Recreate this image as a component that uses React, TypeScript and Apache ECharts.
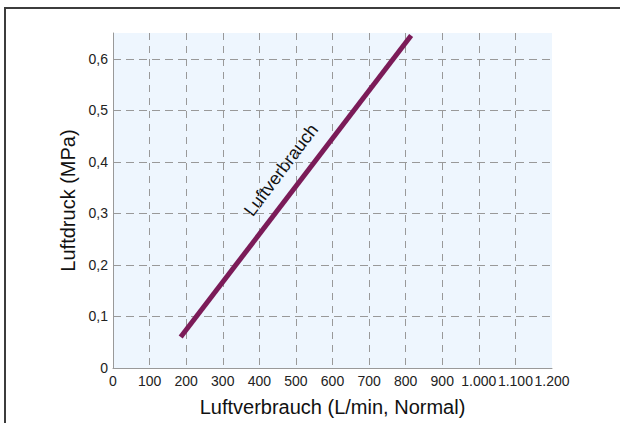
import React, { useEffect, useRef } from "react";
import * as echarts from "echarts";

const lineX = [185, 815];
const lineY = [0.06, 0.645];
const seriesName = "Luftverbrauch";
const xAxisName = "Luftverbrauch (L/min, Normal)";
const yAxisName = "Luftdruck (MPa)";

function fmtX(v: number): string {
  if (v >= 1000) {
    const t = Math.floor(v / 1000);
    const r = String(Math.round(v % 1000)).padStart(3, "0");
    return t + "." + r;
  }
  return String(v);
}
function fmtY(v: number): string {
  if (v === 0) return "0";
  return (Math.round(v * 10) / 10).toFixed(1).replace(".", ",");
}

export default function App() {
  const ref = useRef<HTMLDivElement>(null);
  useEffect(() => {
    if (!ref.current) return;
    const chart = echarts.init(ref.current, undefined, { renderer: "svg" });
    const font = "'Liberation Sans', Arial, sans-serif";
    chart.setOption({
      animation: false,
      grid: {
        left: 113,
        right: 68,
        top: 33,
        bottom: 55,
        show: true,
        backgroundColor: "#eef6fe",
        borderWidth: 0,
      },
      xAxis: {
        type: "value",
        min: 0,
        max: 1200,
        interval: 100,
        name: xAxisName,
        nameLocation: "middle",
        nameGap: 29,
        nameTextStyle: { fontFamily: font, fontSize: 20, color: "#111" },
        axisLine: { show: true, lineStyle: { color: "#999", width: 1 } },
        axisTick: { show: false },
        axisLabel: {
          margin: 6,
          fontFamily: font,
          fontSize: 14,
          color: "#222",
          formatter: (v: number) => fmtX(v),
        },
        splitLine: {
          show: true,
          showMinLine: false,
          showMaxLine: false,
          lineStyle: { color: "#999", type: [7, 6], width: 1 },
        },
      },
      yAxis: {
        type: "value",
        min: 0,
        max: 0.65,
        interval: 0.1,
        name: yAxisName,
        nameLocation: "middle",
        nameGap: 28,
        nameTextStyle: { fontFamily: font, fontSize: 20, color: "#111" },
        axisLine: { show: true, lineStyle: { color: "#999", width: 1 } },
        axisTick: { show: false },
        axisLabel: {
          margin: 5,
          fontFamily: font,
          fontSize: 14,
          color: "#222",
          showMaxLabel: false,
          formatter: (v: number) => (v > 0.61 ? "" : fmtY(v)),
        },
        splitLine: {
          show: true,
          showMinLine: false,
          showMaxLine: false,
          lineStyle: { color: "#999", type: [8, 5], width: 1 },
        },
      },
      series: [
        {
          type: "line",
          name: seriesName,
          data: lineX.map((x, i) => [x, lineY[i]]),
          symbol: "none",
          lineStyle: { color: "#7b1b58", width: 5, cap: "butt" },
        },
      ],
      graphic: [
        {
          type: "text",
          x: 281,
          y: 170,
          rotation: (53 * Math.PI) / 180,
          style: {
            text: seriesName,
            fontFamily: font,
            fontSize: 18,
            fill: "#111",
            align: "center",
            verticalAlign: "middle",
          },
        },
      ],
    });
    return () => chart.dispose();
  }, []);
  return (
    <div
      style={{
        position: "fixed",
        left: 0,
        top: 0,
        width: 620,
        height: 423,
        background: "#fff",
        overflow: "hidden",
      }}
    >
      <div
        style={{
          position: "absolute",
          left: 4,
          top: 7,
          width: 700,
          height: 500,
          borderLeft: "2px solid #3c3c3c",
          borderTop: "2px solid #3c3c3c",
        }}
      />
      <div
        ref={ref}
        style={{ position: "absolute", left: 0, top: 0, width: 620, height: 423 }}
      />
    </div>
  );
}
